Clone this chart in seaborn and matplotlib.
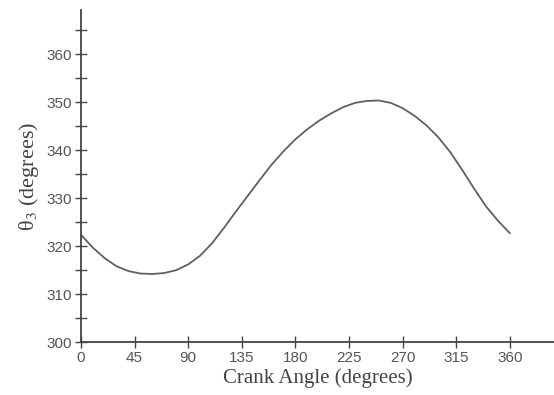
import matplotlib
matplotlib.use("Agg")
import matplotlib.pyplot as plt
import seaborn as sns
import pandas as pd
from matplotlib.ticker import MultipleLocator

crank_angle = [0, 10, 20, 30, 40, 50, 60, 70, 80, 90, 100, 110, 120, 130, 140,
               150, 160, 170, 180, 190, 200, 210, 220, 230, 240, 250, 260, 270,
               280, 290, 300, 310, 320, 330, 340, 350, 360]
theta3 = [322.4, 319.7, 317.5, 315.8, 314.8, 314.3, 314.2, 314.4, 315.0, 316.2,
          318.0, 320.6, 323.8, 327.2, 330.5, 333.8, 337.0, 339.8, 342.3, 344.4,
          346.2, 347.7, 349.0, 349.9, 350.3, 350.4, 349.9, 348.8, 347.2, 345.2,
          342.7, 339.6, 335.9, 332.0, 328.3, 325.3, 322.7]
x_ticks = [0, 45, 90, 135, 180, 225, 270, 315, 360]
y_ticks = [300, 310, 320, 330, 340, 350, 360]

df = pd.DataFrame({"Crank Angle": crank_angle, "theta3": theta3})

sns.set_theme(style="white")
plt.rcParams["mathtext.fontset"] = "stix"

fig = plt.figure(figsize=(5.54, 3.95), dpi=100)
ax = fig.add_axes([0.146, 0.134, 0.854, 0.841])

sns.lineplot(data=df, x="Crank Angle", y="theta3", ax=ax, color="#606060",
             linewidth=1.3)

ax.set_xlim(0, 397)
ax.set_ylim(300, 369.3)
ax.set_xticks(x_ticks)
ax.set_yticks(y_ticks)
ax.yaxis.set_minor_locator(MultipleLocator(5))

for s in ["top", "right"]:
    ax.spines[s].set_visible(False)
for s in ["left", "bottom"]:
    ax.spines[s].set_color("#444444")
    ax.spines[s].set_linewidth(1.3)

ax.tick_params(axis="both", which="major", direction="inout", length=9,
               width=1.0, color="#444444", labelsize=11, labelcolor="#555555",
               left=True, bottom=True, pad=2)
ax.tick_params(axis="y", which="minor", direction="inout", length=9,
               width=1.0, color="#444444", left=True)
for lbl in ax.get_xticklabels() + ax.get_yticklabels():
    lbl.set_family("Liberation Sans")

ax.set_xlabel("Crank Angle (degrees)", family="Liberation Serif", fontsize=15,
              color="#444444", labelpad=2)
ax.set_ylabel("\u03b8$_3$ (degrees)", family="Liberation Serif", fontsize=16,
              color="#444444", labelpad=4)

fig.savefig("out.png", dpi=100, facecolor="white")
